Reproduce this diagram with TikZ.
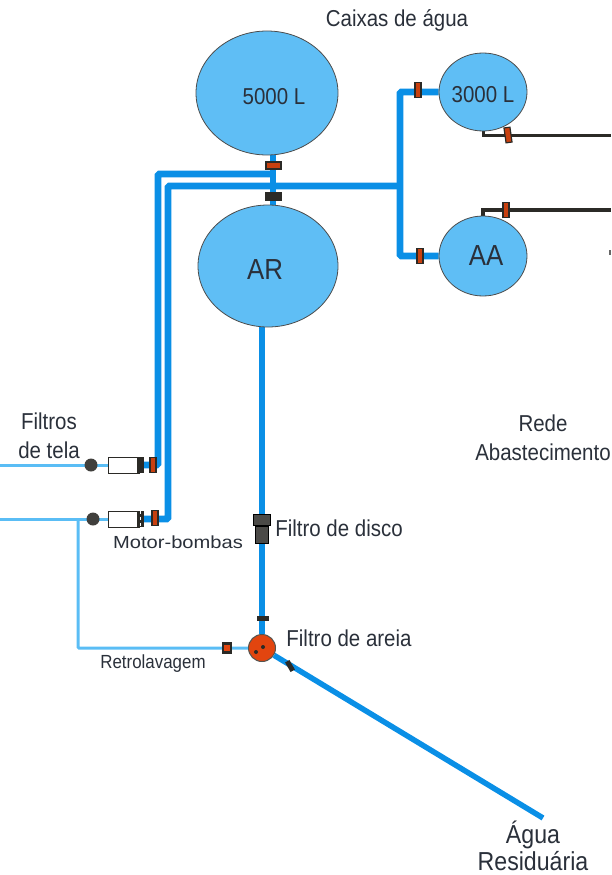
\documentclass[tikz,border=0pt]{standalone}
\usepackage{fontspec}
\setmainfont[FakeStretch=0.89]{Liberation Sans}
\newfontfamily\widefont[FakeStretch=1.15]{Liberation Sans}
\usetikzlibrary{arrows.meta,positioning,shapes.geometric,fit,backgrounds}
\definecolor{tankblue}{HTML}{5FBEF5}
\definecolor{pipeblue}{HTML}{0A8FE6}
\definecolor{feedblue}{HTML}{5ABDF5}
\definecolor{valvered}{HTML}{C8400F}
\definecolor{filterred}{HTML}{E2450F}
\definecolor{darkpipe}{HTML}{2B2A26}
\definecolor{labelink}{HTML}{2A303A}
\tikzset{
  tank/.style={ellipse, fill=tankblue, draw=black!70, line width=0.8pt, inner sep=0pt, text=labelink},
  mainpipe/.style={draw=pipeblue, line width=6.8pt, rounded corners=1.5pt},
  feedpipe/.style={draw=feedblue, line width=3pt, rounded corners=1pt},
  netpipe/.style={draw=darkpipe, line width=3pt},
  vvalve/.style={rectangle, fill=valvered, draw=darkpipe, line width=1.2pt, minimum width=6pt, minimum height=15pt, inner sep=0pt},
  hvalve/.style={rectangle, fill=valvered, draw=darkpipe, line width=2pt, minimum width=15pt, minimum height=7pt, inner sep=0pt},
  motor/.style={rectangle, fill=white, draw=darkpipe, line width=1pt, minimum width=31pt, minimum height=16pt, inner sep=0pt},
  motorend/.style={rectangle, fill=darkpipe, minimum width=7pt, minimum height=16pt, inner sep=0pt},
  strainer/.style={circle, fill=darkpipe!90, minimum size=13pt, inner sep=0pt},
  lbl/.style={text=labelink, font=\fontsize{23}{29}\selectfont, align=center, inner sep=0pt},
  biglbl/.style={text=labelink, font=\fontsize{29}{30}\selectfont, inner sep=0pt},
  smalllbl/.style={text=labelink, font=\fontsize{19}{20}\selectfont, inner sep=0pt}
}
\begin{document}
\begin{tikzpicture}[x=1pt, y=-1pt]
    \useasboundingbox (0,0) rectangle (611,875);

    % pipes first, tanks on top
    \coordinate (riseA) at (158,465);
    \coordinate (riseB) at (168,519);
    \coordinate (topA) at (273,174);
    \coordinate (topB) at (273,186);
    \coordinate (split) at (400,186);
    \coordinate (feedA) at (0,465);
    \coordinate (feedB) at (0,519);
    \coordinate (teeB) at (78,519);
    \coordinate (wasteEnd) at (543,818);
    \coordinate (netA) at (611,135);
    \coordinate (netB) at (611,210);

    \node[tank, minimum width=142pt, minimum height=124pt] (caixa) at (267,93) {};
    \node[tank, minimum width=140pt, minimum height=122pt] (ar) at (268,266) {};
    \node[tank, minimum width=88pt, minimum height=78pt] (tresmil) at (483,92) {};
    \node[tank, minimum width=88pt, minimum height=80pt] (aa) at (483,256) {};
    \node[motor] (motorA) at (124,465) {};
    \node[motor] (motorB) at (124,519) {};
    \node[circle, fill=filterred, draw=darkpipe!80, line width=1pt, minimum size=27pt, inner sep=0pt] (areia) at (262,648) {};

    \begin{scope}[on background layer]
      \draw[mainpipe] (caixa.south -| topA) -- (ar.north -| topA);
      \draw[mainpipe] (topA) -| (riseA) -- (motorA.east);
      \draw[mainpipe] (split) -- (topB) -- (168,186) -- (riseB) -- (motorB.east);
      \draw[mainpipe] (tresmil.west) -| (split) |- (aa.west);
      \draw[mainpipe] (ar.south -| areia) -- (areia);
      \draw[draw=pipeblue, line width=5.5pt] (areia) -- (wasteEnd);
      \draw[feedpipe] (feedA) -- (motorA.west);
      \draw[feedpipe] (feedB) -- (motorB.west);
      \draw[feedpipe] (teeB) |- (areia);
      \draw[netpipe] (tresmil.south) |- (netA);
      \draw[netpipe, line width=3.6pt] (aa.north) |- (netB);
    \end{scope}

    \node[motorend] (motorAend) at (140,465) {};
    \node[motorend] (motorBend) at (140,519) {};
    \draw[white, dashed, line width=1pt] (motorBend.north) -- (motorBend.south);
    \node[strainer] (strainerA) at (91,465) {};
    \node[strainer] (strainerB) at (93,519) {};
    \node[vvalve] (valveA) at (153,465) {};
    \node[vvalve] (valveB) at (155,518) {};
    \node[vvalve] (valveC) at (418,90) {};
    \node[vvalve] (valveD) at (420,256) {};
    \node[vvalve, rotate=8] (valveE) at (508,135) {};
    \node[vvalve] (valveF) at (506,210) {};
    \node[hvalve] (valveG) at (273,165) {};
    \node[hvalve, fill=darkpipe] (valveH) at (273,196) {};
    \node[rectangle, fill=darkpipe, minimum width=12pt, minimum height=5pt, inner sep=0pt] (valveI) at (263,618) {};
    \node[rectangle, fill=filterred, draw=darkpipe, line width=2.5pt, minimum width=8pt, minimum height=9pt, inner sep=0pt] (valveJ) at (227,648) {};
    \node[rectangle, fill=darkpipe, rotate=30, minimum width=5pt, minimum height=11pt, inner sep=0pt] (valveK) at (290,666) {};
    \node[rectangle, fill=darkpipe!85, draw=black, minimum width=17pt, minimum height=11pt, inner sep=0pt] (discoTop) at (262,520) {};
    \node[rectangle, fill=darkpipe!85, draw=black, minimum width=13pt, minimum height=17pt, inner sep=0pt, below=0pt of discoTop] (disco) {};
    \fill[darkpipe] (areia.center) ++(-6,4) circle (2pt);
    \fill[darkpipe] (areia.center) ++(1,-1) circle (2pt);
    \node[rectangle, fill=black!60, minimum width=2pt, minimum height=5pt, inner sep=0pt] (tick) at (610,252) {};

    \node[lbl] (lblcaixa) at (274,97) {5000 L};
    \node[biglbl] (lblar) at (265,270) {AR};
    \node[lbl] (lbltres) at (483,95) {3000 L};
    \node[biglbl] (lblaa) at (486,256) {AA};
    \node[lbl] (lbltitle) at (397,20) {Caixas de água};
    \node[lbl] (lbltela) at (49,436) {Filtros\\de tela};
    \node[lbl] (lblrede) at (543,438) {Rede\\Abastecimento};
    \node[lbl] (lbldisco) at (339,528) {Filtro de disco};
    \node[lbl] (lblareia) at (349,638) {Filtro de areia};
    \node[lbl, font=\fontsize{26}{27}\selectfont] (lblagua) at (533,846) {Água\\Residuária};
    \node[smalllbl, font=\widefont\fontsize{17.5}{20}\selectfont] (lblmotor) at (178,542) {Motor-bombas};
    \node[smalllbl] (lblretro) at (153,664) {Retrolavagem};
\end{tikzpicture}
\end{document}
